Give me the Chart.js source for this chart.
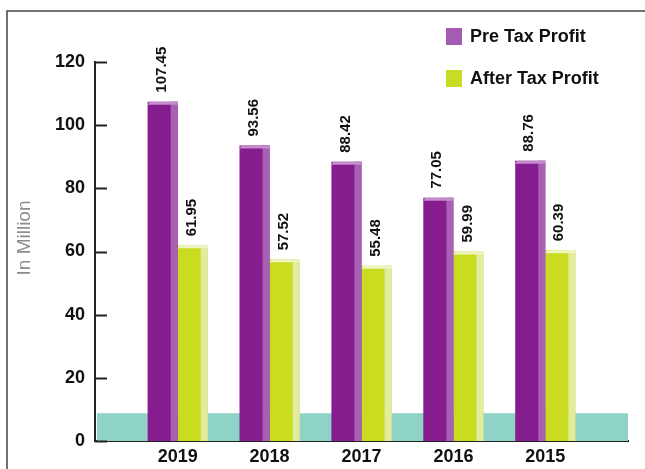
<!DOCTYPE html>
<html>
<head>
<meta charset="utf-8">
<title>Profit</title>
<script src="https://cdn.jsdelivr.net/npm/chart.js@4.4.0/dist/chart.umd.min.js"></script>
<style>
  body { margin: 0; background: #fff; }
  #wrap { width: 645px; height: 469px; position: relative; }
</style>
</head>
<body>
<div id="wrap"><canvas id="profitChart"></canvas></div>
<script>
const years = ["2019", "2018", "2017", "2016", "2015"];
const preTax = [107.45, 93.56, 88.42, 77.05, 88.76];
const afterTax = [61.95, 57.52, 55.48, 59.99, 60.39];
const seriesNames = ["Pre Tax Profit", "After Tax Profit"];
const yMax = 120;
const yStep = 20;
const bandTop = 8.8;

const frontColors = ["#861d8e", "#c9dc1f"];
const sideColors = ["#a860b3", "#e2eca0"];
const capColors = ["#c48ccb", "#eef4c4"];
const keyColors = ["#a45cb2", "#c8dc26"];
const font = "'Liberation Sans', Arial, sans-serif";

// narrow face for the value labels if it is there, plain otherwise
function labelFont(ctx) {
    ctx.font = "bold 17px 'Liberation Sans Narrow', monospace";
    const w1 = ctx.measureText("107.45").width;
    ctx.font = "bold 17px monospace";
    const w2 = ctx.measureText("107.45").width;
    return w1 !== w2 ? "bold 17px 'Liberation Sans Narrow'" : "bold 15px " + font;
}

function toPoints(values) {
    return values.map((v, i) => ({x: i, y: v}));
}

// teal floor strip, 3d faces, value labels, legend and frame
const decor = {
    id: "decor",
    beforeDatasetsDraw(chart) {
        const ctx = chart.ctx;
        const area = chart.chartArea;
        const y = chart.scales.y;
        ctx.save();
        ctx.fillStyle = "#8fd3c6";
        const top = y.getPixelForValue(bandTop);
        ctx.fillRect(area.left + 2, top, area.right - area.left - 2, y.getPixelForValue(0) - top);
        ctx.restore();
    },
    afterDatasetsDraw(chart) {
        const ctx = chart.ctx;
        const valueFont = labelFont(ctx);
        chart.data.datasets.forEach((ds, d) => {
            const meta = chart.getDatasetMeta(d);
            meta.data.forEach((bar, i) => {
                const p = bar.getProps(["x", "y", "base", "width"], true);
                const right = p.x + p.width / 2;
                const left = p.x - p.width / 2;
                ctx.save();
                ctx.fillStyle = sideColors[d];
                ctx.fillRect(right - 7, p.y, 7, p.base - p.y);
                ctx.fillStyle = capColors[d];
                ctx.beginPath();
                ctx.moveTo(left, p.y + 3);
                ctx.lineTo(left + 2, p.y);
                ctx.lineTo(right, p.y);
                ctx.lineTo(right, p.y + 3);
                ctx.closePath();
                ctx.fill();
                // value label, reading upwards
                ctx.translate(p.x - 1, p.y - 9);
                ctx.rotate(-Math.PI / 2);
                ctx.fillStyle = "#111";
                ctx.font = valueFont;
                ctx.textAlign = "left";
                ctx.textBaseline = "middle";
                ctx.fillText(ds.data[i].y.toFixed(2), 0, 0);
                ctx.restore();
            });
        });
    },
    afterDraw(chart) {
        const ctx = chart.ctx;
        const area = chart.chartArea;
        const y = chart.scales.y;
        ctx.save();
        // short inward ticks on the value axis
        ctx.strokeStyle = "#222";
        ctx.lineWidth = 2;
        y.ticks.forEach(t => {
            const py = Math.round(y.getPixelForValue(t.value)) + 0.5;
            ctx.beginPath();
            ctx.moveTo(area.left, py);
            ctx.lineTo(area.left + 12, py);
            ctx.stroke();
        });
        // outer frame, only top and left edges show
        ctx.strokeStyle = "#444";
        ctx.lineWidth = 1.5;
        ctx.beginPath();
        ctx.moveTo(7, 469);
        ctx.lineTo(7, 11);
        ctx.lineTo(645, 11);
        ctx.stroke();
        // axis title
        ctx.translate(25, 238);
        ctx.rotate(-Math.PI / 2);
        ctx.fillStyle = "#8c8c8c";
        ctx.font = "19px " + font;
        ctx.textAlign = "center";
        ctx.textBaseline = "middle";
        ctx.fillText("In Million", 0, 0);
        ctx.restore();
        // legend
        ctx.save();
        ctx.font = "bold 18px " + font;
        ctx.textBaseline = "middle";
        seriesNames.forEach((name, k) => {
            const ky = 28 + k * 42;
            ctx.fillStyle = keyColors[k];
            ctx.fillRect(446, ky, 16, 17);
            ctx.fillStyle = "#111";
            ctx.fillText(name, 470, ky + 9);
        });
        ctx.restore();
    }
};

const ctx = document.getElementById("profitChart").getContext("2d");
const profitChart = new Chart(ctx, {
    type: "bar",
    data: {
        datasets: [{
            label: seriesNames[0],
            data: toPoints(preTax),
            backgroundColor: frontColors[0],
            categoryPercentage: 0.655,
            barPercentage: 1
        }, {
            label: seriesNames[1],
            data: toPoints(afterTax),
            backgroundColor: frontColors[1],
            categoryPercentage: 0.655,
            barPercentage: 1
        }]
    },
    options: {
        responsive: true,
        maintainAspectRatio: false,
        animation: false,
        layout: {padding: {top: 62, right: 17, left: 0, bottom: 0}},
        plugins: {
            legend: {display: false},
            tooltip: {enabled: false}
        },
        scales: {
            x: {
                type: "linear",
                offset: false,
                min: -0.9,
                max: years.length - 0.1,
                grid: {display: false, drawTicks: false},
                border: {display: true, color: "#222", width: 2},
                afterBuildTicks: scale => {
                    scale.ticks = scale.ticks.filter(t => Number.isInteger(t.value) && t.value >= 0 && t.value < years.length);
                },
                afterFit: scale => { scale.height = 28; },
                ticks: {
                    stepSize: 1,
                    autoSkip: false,
                    maxRotation: 0,
                    padding: 5,
                    color: "#111",
                    font: {family: font, size: 18, weight: "bold"},
                    callback: v => years[v]
                }
            },
            y: {
                min: 0,
                max: yMax,
                grid: {display: false, drawTicks: false},
                border: {display: true, color: "#222", width: 2},
                afterFit: scale => { scale.width = 95; },
                ticks: {
                    stepSize: yStep,
                    padding: 10,
                    color: "#111",
                    font: {family: font, size: 18, weight: "bold"}
                }
            }
        }
    },
    plugins: [decor]
});
</script>
</body>
</html>
